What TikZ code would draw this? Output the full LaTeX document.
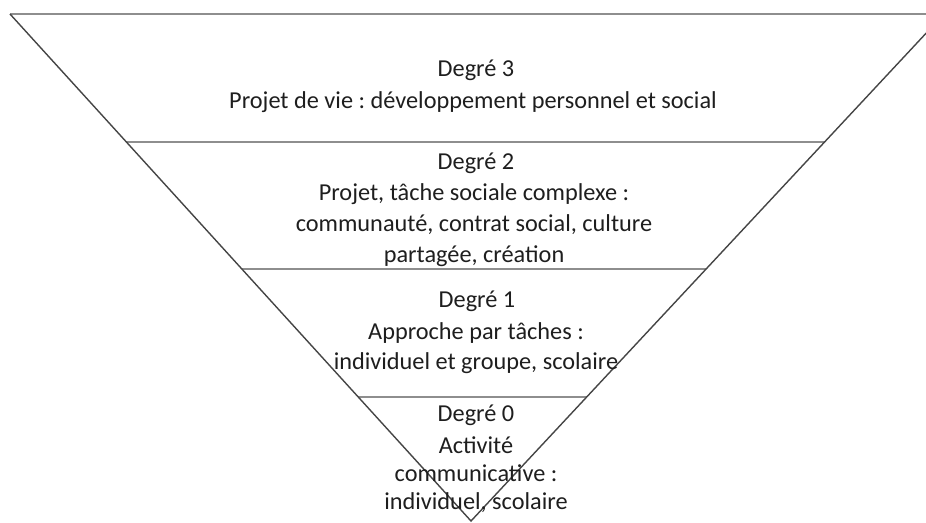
\documentclass[tikz,border=0pt]{standalone}
\usepackage{fontspec}
\setmainfont{Carlito}
\frenchspacing
\usetikzlibrary{calc}
\definecolor{edgecol}{HTML}{454545}
\definecolor{barcol}{HTML}{8E8E8E}
\definecolor{txtcol}{HTML}{1E1E1E}
\begin{document}
\begin{tikzpicture}[x=1pt,y=-1pt,
  edge/.style={draw=edgecol,line width=1.4pt},
  bar/.style={draw=barcol,line width=2pt},
  lbl/.style={anchor=mid,inner sep=0pt,text=txtcol,font=\fontsize{24.3}{28}\selectfont\frenchspacing}]
\useasboundingbox (0,0) rectangle (926,522);
\clip (0,0) rectangle (926,522);
\coordinate (A) at (10,14);
\coordinate (B) at (944,14);
\coordinate (C) at (471,521);
\coordinate (L1) at ($(A)!0.2525!(C)$);
\coordinate (R1) at ($(B)!0.2525!(C)$);
\coordinate (L2) at ($(A)!0.503!(C)$);
\coordinate (R2) at ($(B)!0.503!(C)$);
\coordinate (L3) at ($(A)!0.7554!(C)$);
\coordinate (R3) at ($(B)!0.7554!(C)$);
\draw[bar] (A) -- (B);
\draw[bar] (L1) -- (R1);
\draw[bar] (L2) -- (R2);
\draw[bar] (L3) -- (R3);
\draw[edge] (A) -- (C) -- (B);
\node[lbl] (d3t) at (476,74) {Degré 3};
\node[lbl] (d3a) at (473,106) {Projet de vie : développement personnel et social};
\node[lbl] (d2t) at (476,167) {Degré 2};
\node[lbl] (d2a) at (474,198) {Projet, tâche sociale complexe :};
\node[lbl] (d2b) at (474,229) {communauté, contrat social, culture};
\node[lbl] (d2c) at (474,260) {partagée, création};
\node[lbl] (d1t) at (477,305) {Degré 1};
\node[lbl] (d1a) at (476,337) {Approche par tâches :};
\node[lbl] (d1b) at (476,367) {individuel et groupe, scolaire};
\node[lbl] (d0t) at (476,419) {Degré 0};
\node[lbl] (d0a) at (476,451) {Activité};
\node[lbl] (d0b) at (476,479) {communicative :};
\node[lbl] (d0c) at (476,507) {individuel, scolaire};
\end{tikzpicture}
\end{document}
